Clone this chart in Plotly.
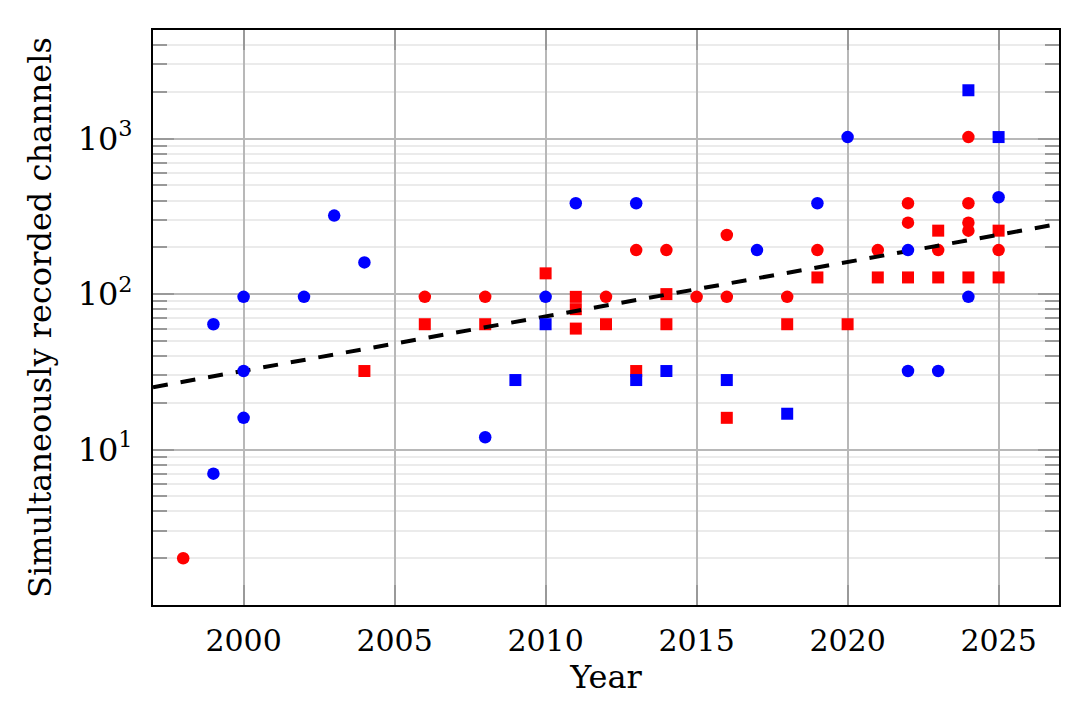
import plotly.graph_objects as go

# ---- data ----
blue_circle_years = [1999, 1999, 2000, 2000, 2000, 2002, 2003, 2004, 2008, 2010,
                     2011, 2013, 2017, 2019, 2020, 2022, 2022, 2023, 2024, 2025]
blue_circle_vals = [64, 7, 96, 32, 16, 96, 320, 160, 12, 96,
                    384, 384, 192, 384, 1024, 192, 32, 32, 96, 420]

blue_square_years = [2009, 2010, 2013, 2014, 2016, 2018, 2024, 2025]
blue_square_vals = [28, 64, 28, 32, 28, 17, 2048, 1024]

red_circle_years = [1998, 2006, 2008, 2012, 2013, 2014, 2015, 2016, 2016, 2018,
                    2019, 2021, 2022, 2022, 2023, 2024, 2024, 2024, 2024, 2025]
red_circle_vals = [2, 96, 96, 96, 192, 192, 96, 96, 240, 96,
                   192, 192, 384, 288, 192, 1024, 384, 288, 256, 192]

red_square_years = [2004, 2006, 2008, 2010, 2011, 2011, 2011, 2012, 2013, 2014,
                    2014, 2016, 2018, 2019, 2020, 2021, 2022, 2023, 2023, 2024,
                    2025, 2025]
red_square_vals = [32, 64, 64, 136, 96, 80, 60, 64, 32, 100,
                   64, 16, 64, 128, 64, 128, 128, 128, 256, 128,
                   128, 256]

trend_years = [1997, 2027]
trend_vals = [25.2, 283]

x_tick_vals = [2000, 2005, 2010, 2015, 2020, 2025]
y_tick_vals = [10, 100, 1000]
y_tick_text = ["10<sup>1</sup>", "10<sup>2</sup>", "10<sup>3</sup>"]
y_minor_vals = [m * d for d in [1, 10, 100, 1000] for m in range(2, 10) if m * d <= 5000]

FONT = "DejaVu Serif"

fig = go.Figure()
fig.add_trace(go.Scatter(x=red_circle_years, y=red_circle_vals, mode="markers",
                         name="red circles",
                         marker=dict(symbol="circle", size=12.5, color="#ff0000", line=dict(width=0))))
fig.add_trace(go.Scatter(x=red_square_years, y=red_square_vals, mode="markers",
                         name="red squares",
                         marker=dict(symbol="square", size=12, color="#ff0000", line=dict(width=0))))
fig.add_trace(go.Scatter(x=trend_years, y=trend_vals, mode="lines", name="trend",
                         line=dict(color="black", width=4, dash="15px,13px")))
fig.add_trace(go.Scatter(x=blue_circle_years, y=blue_circle_vals, mode="markers",
                         name="blue circles",
                         marker=dict(symbol="circle", size=12.5, color="#0000ff", line=dict(width=0))))
fig.add_trace(go.Scatter(x=blue_square_years, y=blue_square_vals, mode="markers",
                         name="blue squares",
                         marker=dict(symbol="square", size=12, color="#0000ff", line=dict(width=0))))

fig.update_layout(
    width=1080, height=706,
    margin=dict(l=153, r=21, t=30, b=101),
    paper_bgcolor="white", plot_bgcolor="white",
    showlegend=False,
    font=dict(family=FONT, size=30, color="black"),
)
fig.update_xaxes(
    range=[1997, 2027],
    tickvals=x_tick_vals,
    showgrid=True, gridcolor="#b8b8b8", gridwidth=1.5,
    ticks="inside", ticklen=20, tickwidth=1.5, tickcolor="#999999",
    showline=True, linecolor="black", linewidth=2, mirror="ticks",
    zeroline=False,
    tickfont=dict(family=FONT, size=30),
    ticklabelstandoff=8,
    title=dict(text="Year", font=dict(family=FONT, size=32), standoff=6),
)
fig.update_yaxes(
    type="log",
    range=[0, 3.699],
    tickvals=y_tick_vals, ticktext=y_tick_text,
    showgrid=True, gridcolor="#b8b8b8", gridwidth=1.5,
    ticks="inside", ticklen=21, tickwidth=1.5, tickcolor="#999999",
    minor=dict(tickvals=y_minor_vals, showgrid=True, gridcolor="#ebebeb", gridwidth=1.5,
               ticks="inside", ticklen=14, tickwidth=1.5, tickcolor="#999999"),
    showline=True, linecolor="black", linewidth=2, mirror="ticks",
    zeroline=False,
    tickfont=dict(family=FONT, size=32),
    ticklabelstandoff=12,
    title=dict(text="Simultaneously recorded channels", font=dict(family=FONT, size=32), standoff=16),
)

fig.write_html("out.html")
